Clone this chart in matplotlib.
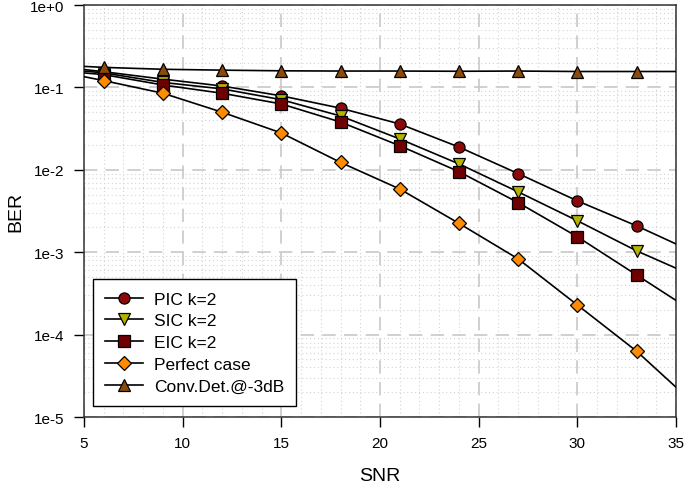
import matplotlib.pyplot as plt
from matplotlib.ticker import MultipleLocator, LogLocator, NullFormatter

plt.rcParams['font.family'] = ['Liberation Sans', 'DejaVu Sans']

# SNR points (first/last are line ends without markers)
snr = [5, 6, 9, 12, 15, 18, 21, 24, 27, 30, 33, 35]

pic = [0.165, 0.155, 0.126, 0.104, 0.079, 0.056, 0.036, 0.0189, 0.0090, 0.0042, 0.00209, 0.00126]
sic = [0.158, 0.150, 0.115, 0.096, 0.071, 0.045, 0.0237, 0.0118, 0.0054, 0.00241, 0.00104, 0.00064]
eic = [0.150, 0.143, 0.107, 0.085, 0.063, 0.038, 0.0196, 0.0095, 0.0040, 0.00154, 0.00053, 0.00026]
perfect = [0.135, 0.121, 0.085, 0.050, 0.028, 0.0123, 0.00585, 0.00224, 0.00083, 0.000229, 6.3e-5, 2.3e-5]
conv = [0.180, 0.175, 0.166, 0.162, 0.159, 0.158, 0.158, 0.157, 0.158, 0.156, 0.156, 0.156]

series = [
    ('PIC k=2', pic, 'o', '#8a0a0a'),
    ('SIC k=2', sic, 'v', '#b3b300'),
    ('EIC k=2', eic, 's', '#6e0000'),
    ('Perfect case', perfect, 'D', '#ff8c00'),
    ('Conv.Det.@-3dB', conv, '^', '#8b4a0c'),
]

fig = plt.figure(figsize=(6.85, 4.85), dpi=100)
ax = fig.add_axes([0.1226, 0.1381, 0.8643, 0.8495])

for label, y, m, c in series:
    ax.plot(snr, y, color='black', lw=1.2, marker=m, markersize=8 if m != 'D' else 7,
            markerfacecolor=c, markeredgecolor='black', markeredgewidth=0.9,
            markevery=slice(1, -1), label=label, zorder=3)

ax.set_yscale('log')
ax.set_xlim(5, 35)
ax.set_ylim(1e-5, 1)
ax.xaxis.set_major_locator(MultipleLocator(5))
ax.xaxis.set_minor_locator(MultipleLocator(1))
ax.yaxis.set_minor_locator(LogLocator(base=10, subs=range(2, 10), numticks=10))
ax.yaxis.set_minor_formatter(NullFormatter())
ax.set_yticks([1e-5, 1e-4, 1e-3, 1e-2, 1e-1, 1])
ax.set_yticklabels(['1e-5', '1e-4', '1e-3', '1e-2', '1e-1', '1e+0'])

ax.grid(which='major', color='#c8c8c8', linestyle=(0, (8, 5)), lw=1.2)
ax.grid(which='minor', color='#d4d4d4', linestyle=(0, (1, 2.5)), lw=0.8)
ax.set_axisbelow(True)

ax.tick_params(which='major', direction='out', length=7, pad=7, labelsize=11, width=1)
ax.tick_params(which='minor', length=0)
for s in ax.spines.values():
    s.set_linewidth(1.1)
    s.set_color('#333333')

ax.set_xlabel('SNR', fontsize=14)
ax.set_ylabel('BER', fontsize=14)
ax.xaxis.set_label_coords(0.5, -0.122)
ax.yaxis.set_label_coords(-0.1, 0.5)

leg = ax.legend(loc='lower left', bbox_to_anchor=(0.015, 0.027), borderaxespad=0,
                fontsize=12.5, frameon=True, fancybox=False, edgecolor='black',
                framealpha=1, handlelength=2.2, handletextpad=0.6,
                labelspacing=0.38, borderpad=0.7)
leg.get_frame().set_linewidth(1.0)

fig.savefig('out.png', dpi=100)
